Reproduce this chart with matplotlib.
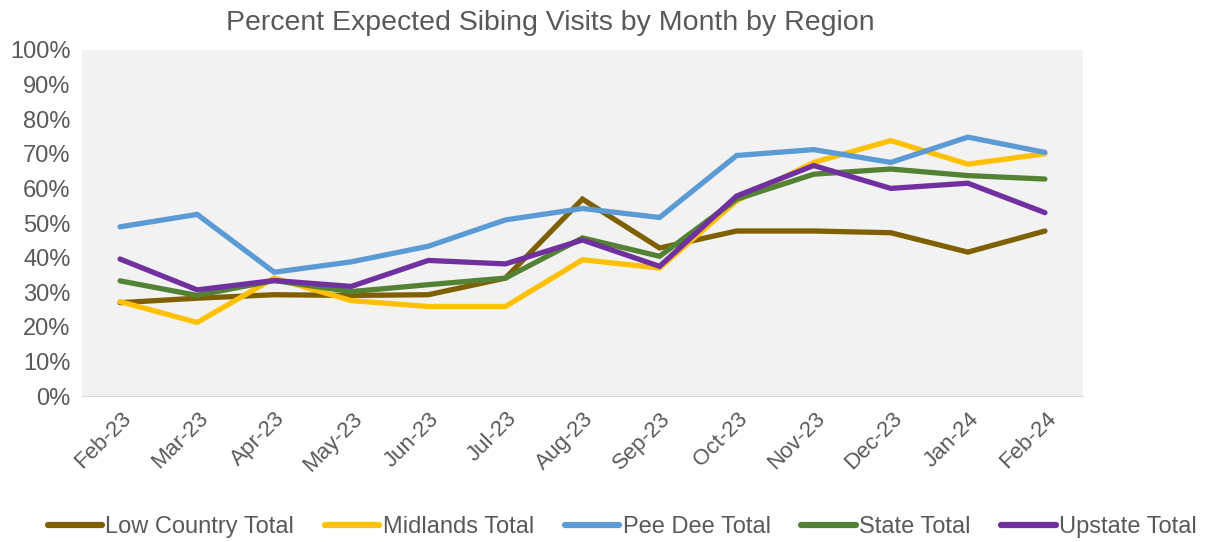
import numpy as np
import matplotlib.pyplot as plt
import matplotlib.transforms as mtransforms
from matplotlib.ticker import PercentFormatter

plt.rcParams['font.family'] = ['Liberation Sans', 'DejaVu Sans']

months = ['Feb-23', 'Mar-23', 'Apr-23', 'May-23', 'Jun-23', 'Jul-23', 'Aug-23',
          'Sep-23', 'Oct-23', 'Nov-23', 'Dec-23', 'Jan-24', 'Feb-24']

# percent of expected sibling visits
low_country = [27.0, 28.3, 29.3, 29.1, 29.3, 34.1, 56.9, 42.8, 47.7, 47.7, 47.2, 41.6, 47.7]
midlands    = [27.3, 21.3, 34.1, 27.6, 25.9, 25.9, 39.4, 37.0, 56.4, 67.5, 73.8, 67.0, 70.0]
pee_dee     = [48.9, 52.5, 35.8, 38.8, 43.3, 50.9, 54.2, 51.6, 69.5, 71.2, 67.5, 74.8, 70.4]
state       = [33.3, 29.1, 33.4, 30.2, 32.2, 34.1, 45.7, 40.4, 56.9, 64.1, 65.6, 63.7, 62.7]
upstate     = [39.6, 30.7, 33.4, 31.7, 39.2, 38.2, 45.1, 37.5, 57.8, 66.6, 60.0, 61.5, 53.0]

series = [('Low Country Total', low_country, '#7F6000'),
          ('Midlands Total', midlands, '#FFC000'),
          ('Pee Dee Total', pee_dee, '#5B9BD5'),
          ('State Total', state, '#548235'),
          ('Upstate Total', upstate, '#7030A0')]

fig = plt.figure(figsize=(12.06, 5.42), dpi=100)
ax = fig.add_axes([0.0676, 0.269, 0.8308, 0.639])
ax.set_facecolor('#F2F2F2')

x = np.arange(len(months))
for name, vals, col in series:
    ax.plot(x, vals, color=col, lw=3.8, label=name, solid_capstyle='round', solid_joinstyle='miter')

ax.set_xlim(-0.5, len(months) - 0.5)
ax.set_ylim(0, 100)
ax.set_yticks(np.arange(0, 101, 10))
ax.yaxis.set_major_formatter(PercentFormatter(decimals=0))
ax.set_xticks(x)
ax.set_xticklabels(months, rotation=45, ha='right', va='center', rotation_mode='anchor')
ax.tick_params(axis='both', length=0, colors='#595959')
ax.tick_params(axis='x', pad=14, labelsize=16)
ax.tick_params(axis='y', pad=8, labelsize=17)

# nudge the slanted month labels a bit to the right, like Excel does
shift = mtransforms.ScaledTranslation(8 / 100, 0, fig.dpi_scale_trans)
for lbl in ax.get_xticklabels():
    lbl.set_transform(lbl.get_transform() + shift)

for s in ['top', 'right', 'left']:
    ax.spines[s].set_visible(False)
ax.spines['bottom'].set_color('#D9D9D9')

fig.text(0.456, 0.958, 'Percent Expected Sibing Visits by Month by Region',
         ha='center', va='center', fontsize=20.5, color='#595959')

leg = fig.legend(loc='center', bbox_to_anchor=(0.516, 0.027), ncol=5, frameon=False,
                 fontsize=17, labelcolor='#595959', handlelength=2.3, handletextpad=0.15,
                 columnspacing=1.3)
for h in leg.get_lines():
    h.set_linewidth(4.5)

fig.savefig('out.png', dpi=100)
